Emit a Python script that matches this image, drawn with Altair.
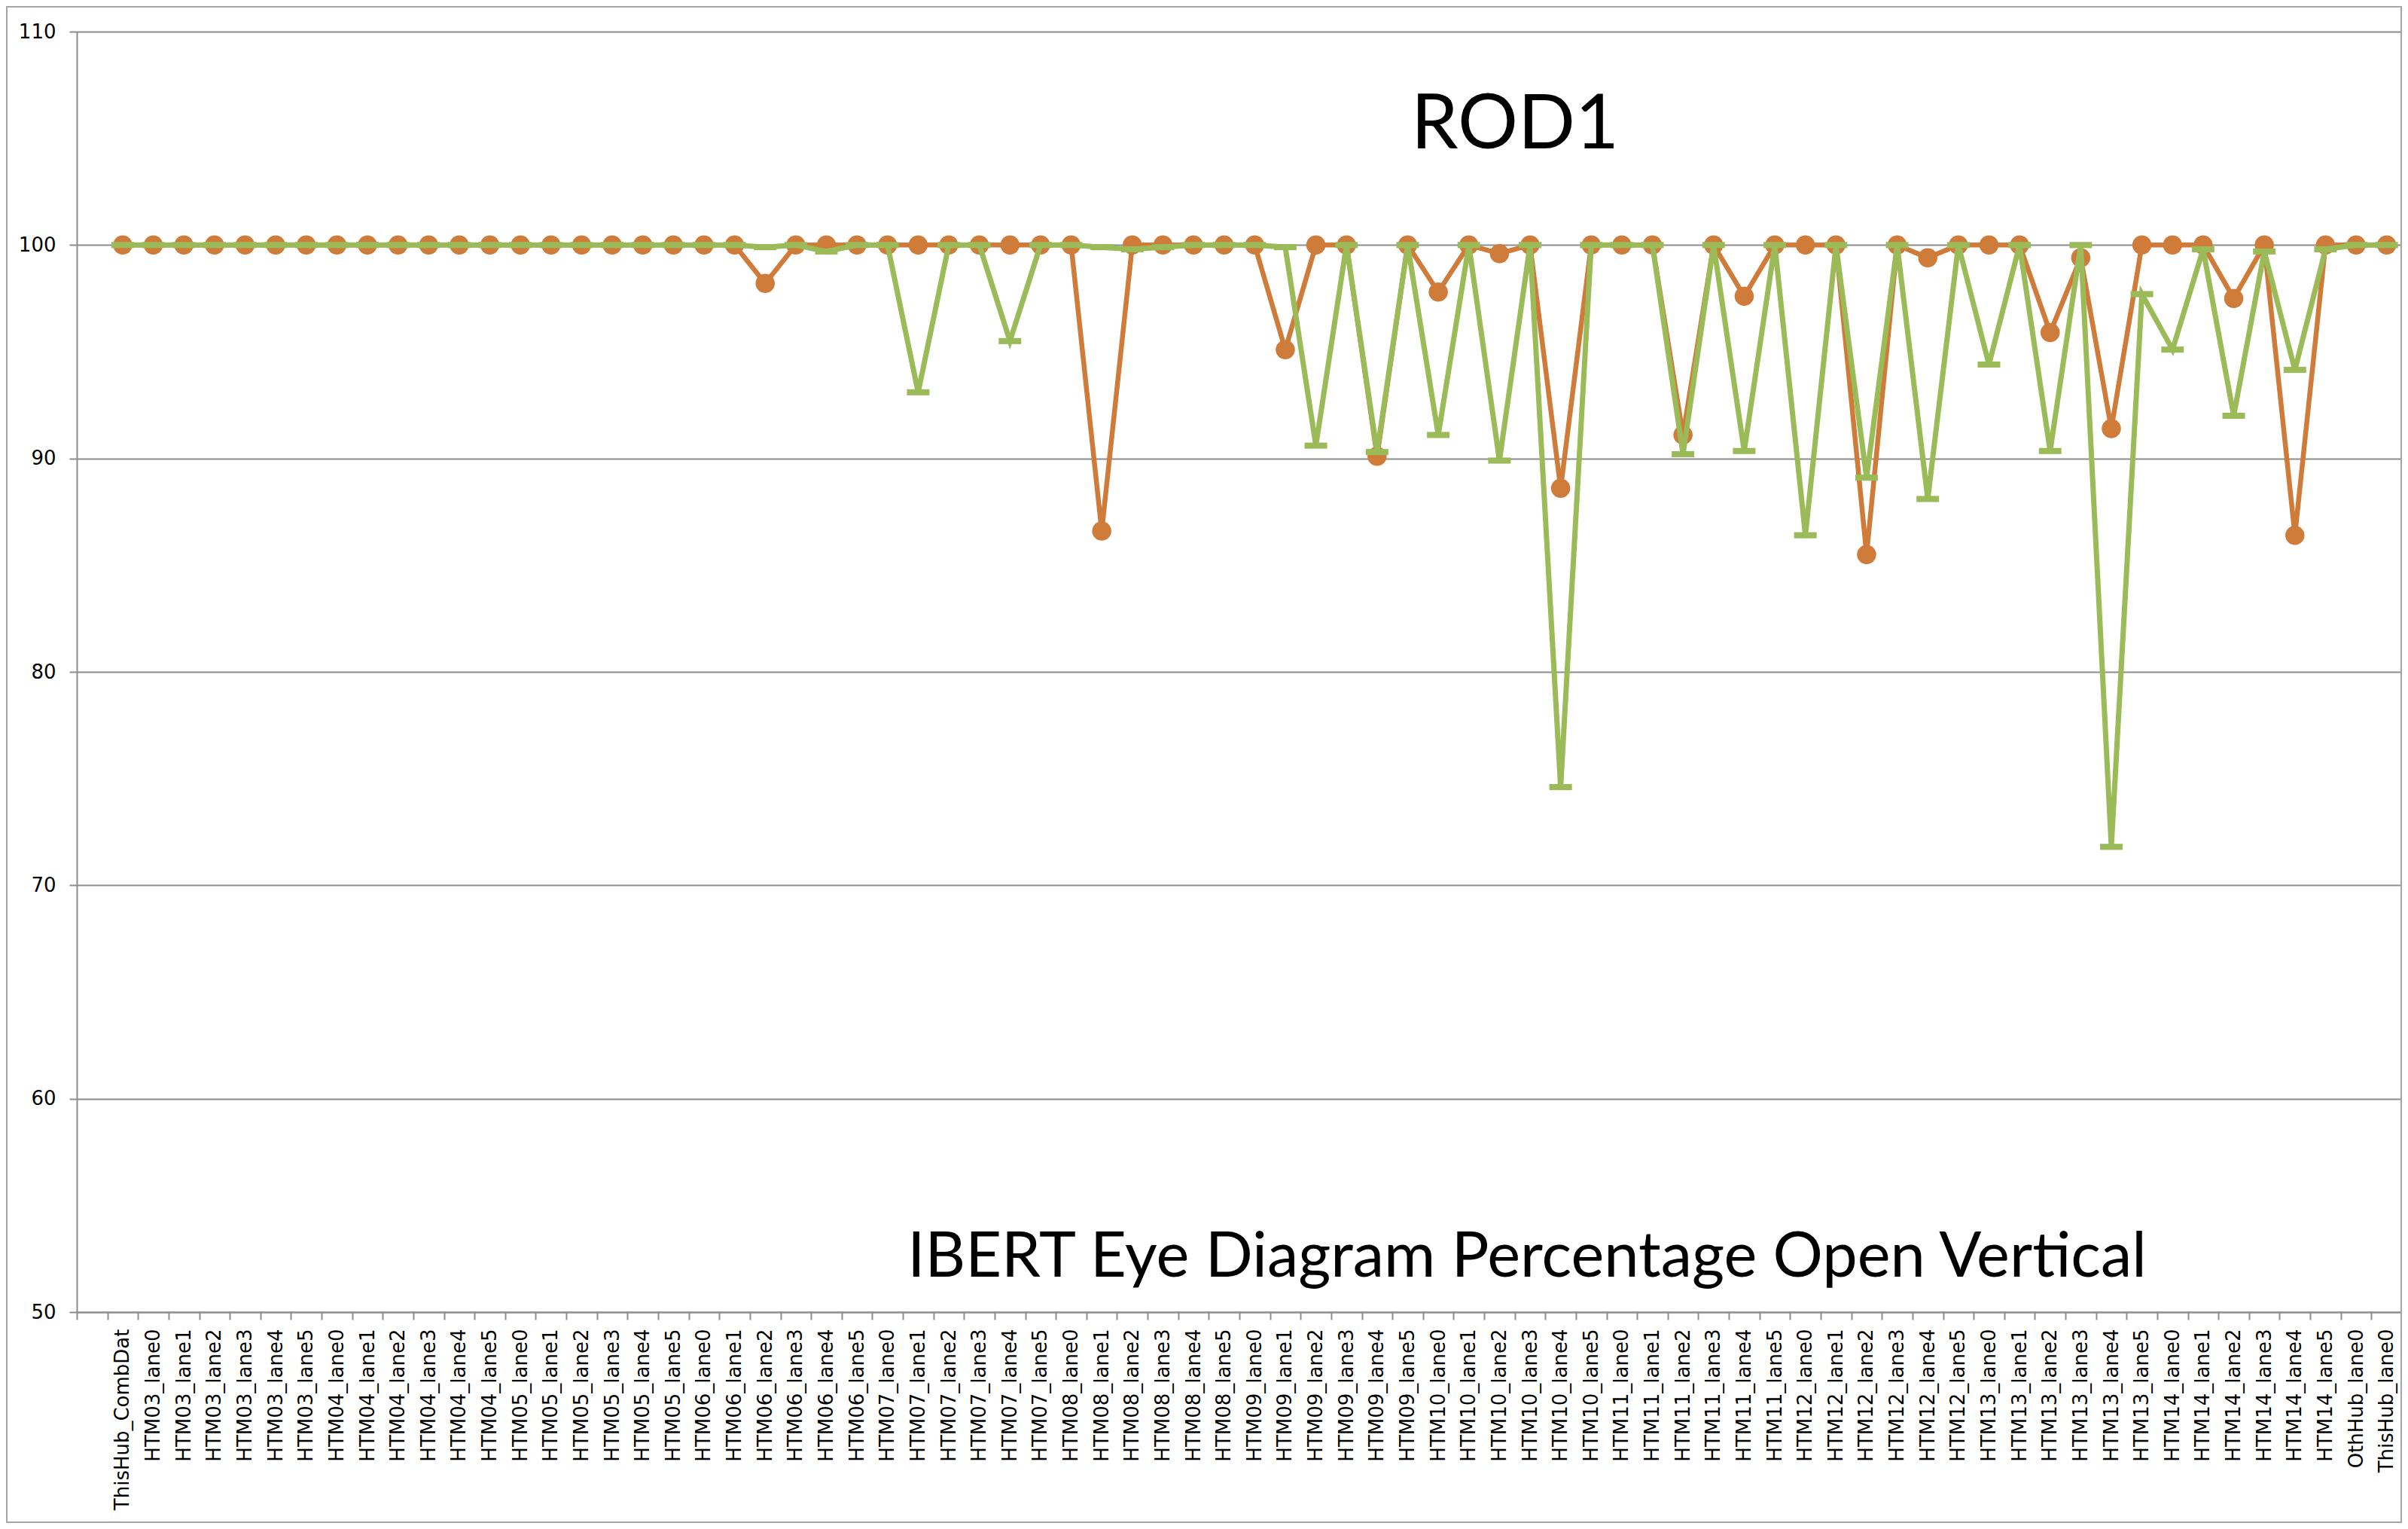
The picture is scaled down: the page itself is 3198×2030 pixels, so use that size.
import altair as alt
import pandas as pd

categories = [
    "ThisHub_CombDat",
    "HTM03_lane0", "HTM03_lane1", "HTM03_lane2", "HTM03_lane3", "HTM03_lane4", "HTM03_lane5",
    "HTM04_lane0", "HTM04_lane1", "HTM04_lane2", "HTM04_lane3", "HTM04_lane4", "HTM04_lane5",
    "HTM05_lane0", "HTM05_lane1", "HTM05_lane2", "HTM05_lane3", "HTM05_lane4", "HTM05_lane5",
    "HTM06_lane0", "HTM06_lane1", "HTM06_lane2", "HTM06_lane3", "HTM06_lane4", "HTM06_lane5",
    "HTM07_lane0", "HTM07_lane1", "HTM07_lane2", "HTM07_lane3", "HTM07_lane4", "HTM07_lane5",
    "HTM08_lane0", "HTM08_lane1", "HTM08_lane2", "HTM08_lane3", "HTM08_lane4", "HTM08_lane5",
    "HTM09_lane0", "HTM09_lane1", "HTM09_lane2", "HTM09_lane3", "HTM09_lane4", "HTM09_lane5",
    "HTM10_lane0", "HTM10_lane1", "HTM10_lane2", "HTM10_lane3", "HTM10_lane4", "HTM10_lane5",
    "HTM11_lane0", "HTM11_lane1", "HTM11_lane2", "HTM11_lane3", "HTM11_lane4", "HTM11_lane5",
    "HTM12_lane0", "HTM12_lane1", "HTM12_lane2", "HTM12_lane3", "HTM12_lane4", "HTM12_lane5",
    "HTM13_lane0", "HTM13_lane1", "HTM13_lane2", "HTM13_lane3", "HTM13_lane4", "HTM13_lane5",
    "HTM14_lane0", "HTM14_lane1", "HTM14_lane2", "HTM14_lane3", "HTM14_lane4", "HTM14_lane5",
    "OthHub_lane0", "ThisHub_lane0",
]

# series 1 (orange, circle markers)
orange_values = [
    100,
    100, 100, 100, 100, 100, 100,
    100, 100, 100, 100, 100, 100,
    100, 100, 100, 100, 100, 100,
    100, 100, 98.2, 100, 100, 100,
    100, 100, 100, 100, 100, 100,
    100, 86.6, 100, 100, 100, 100,
    100, 95.1, 100, 100, 90.1, 100,
    97.8, 100, 99.6, 100, 88.6, 100,
    100, 100, 91.1, 100, 97.6, 100,
    100, 100, 85.5, 100, 99.4, 100,
    100, 100, 95.9, 99.4, 91.4, 100,
    100, 100, 97.5, 100, 86.4, 100,
    100, 100,
]

# series 2 (green, dash markers)
green_values = [
    100,
    100, 100, 100, 100, 100, 100,
    100, 100, 100, 100, 100, 100,
    100, 100, 100, 100, 100, 100,
    100, 100, 99.9, 100, 99.7, 100,
    100, 93.1, 100, 100, 95.5, 100,
    100, 99.9, 99.8, 99.9, 100, 100,
    100, 99.9, 90.6, 100, 90.3, 100,
    91.1, 100, 89.9, 100, 74.6, 100,
    100, 100, 90.2, 100, 90.35, 100,
    86.4, 100, 89.1, 100, 88.1, 100,
    94.4, 100, 90.35, 100, 71.8, 97.7,
    95.1, 99.8, 92.0, 99.7, 94.15, 99.8,
    100, 100,
]

y_ticks = [50, 60, 70, 80, 90, 100, 110]
chart_title = "ROD1"
sub_title = "IBERT Eye Diagram Percentage Open Vertical"

ORANGE = "#CF7B3A"
GREEN = "#9BBB59"
AXIS_GRAY = "#8C8C8C"

df_o = pd.DataFrame({"cat": categories, "v": orange_values, "idx": list(range(len(categories)))})
df_g = pd.DataFrame({"cat": categories, "v": green_values, "idx": list(range(len(categories)))})

x_scale = alt.Scale(type="band", domain=[""] + categories, paddingInner=0, paddingOuter=0)
y_scale = alt.Scale(domain=[50, 110], nice=False, zero=False)

x_axis = alt.Axis(
    title=None, labelAngle=-90, tickBand="extent", tickSize=10, labelPadding=12,
    labelFont="DejaVu Sans", labelFontSize=26, labelColor="#000000", labelOverlap=False,
    labelLimit=0,
    domainColor=AXIS_GRAY, domainWidth=2, tickColor=AXIS_GRAY, tickWidth=2, grid=False,
)
y_axis = alt.Axis(
    title=None, values=y_ticks, tickSize=10, labelPadding=18,
    labelFont="DejaVu Sans", labelFontSize=26, labelColor="#000000",
    domainColor=AXIS_GRAY, domainWidth=2, tickColor=AXIS_GRAY, tickWidth=2,
    grid=True, gridColor=AXIS_GRAY, gridWidth=2,
)

X = alt.X("cat:N", scale=x_scale, axis=x_axis, sort=None)
Y = alt.Y("v:Q", scale=y_scale, axis=y_axis)

orange_line = alt.Chart(df_o).mark_line(color=ORANGE, strokeWidth=6.5).encode(
    x=X, y=Y, order=alt.Order("idx:Q")
)
orange_pts = alt.Chart(df_o).mark_point(
    color=ORANGE, filled=True, opacity=1, shape="circle", size=650
).encode(x=X, y=Y)

green_line = alt.Chart(df_g).mark_line(color=GREEN, strokeWidth=7).encode(
    x=X, y=Y, order=alt.Order("idx:Q")
)
green_pts = alt.Chart(df_g).mark_point(
    color=GREEN, filled=True, opacity=1,
    shape="M-1,-0.27L1,-0.27L1,0.27L-1,0.27Z", size=900,
).encode(x=X, y=Y)

title_txt = alt.Chart(pd.DataFrame({"t": [chart_title]})).mark_text(
    font="Lato", fontSize=100, color="#000000", align="center", baseline="alphabetic"
).encode(text="t:N", x=alt.value(1910), y=alt.value(155))

sub_txt = alt.Chart(pd.DataFrame({"t": [sub_title]})).mark_text(
    font="Lato", fontSize=83, color="#000000", align="center", baseline="alphabetic"
).encode(text="t:N", x=alt.value(1926), y=alt.value(1653))

frame = alt.Chart(pd.DataFrame({"f": [0]})).mark_rect(
    fill=None, stroke="#A6A6A6", strokeWidth=2, clip=False
).encode(x=alt.value(-93), x2=alt.value(3087), y=alt.value(-33), y2=alt.value(1979))

chart = alt.layer(
    frame, orange_line, orange_pts, green_line, green_pts, title_txt, sub_txt
).properties(
    width=3088, height=1700,
    autosize=alt.AutoSizeParams(type="none"),
    padding={"left": 94, "top": 34, "right": 0, "bottom": 280},
    background="#FFFFFF",
).configure_view(strokeWidth=0)

chart.save("out.html", embed_options={"renderer": "svg", "actions": False})
